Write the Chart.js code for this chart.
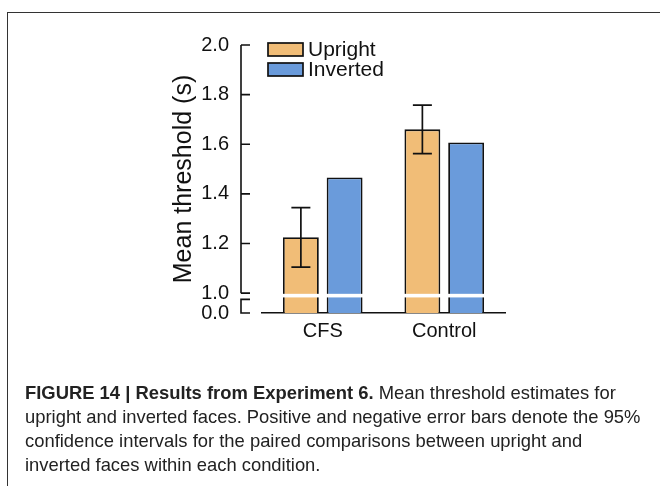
<!DOCTYPE html>
<html>
<head>
<meta charset="utf-8">
<script src="https://cdn.jsdelivr.net/npm/chart.js@4.4.0/dist/chart.umd.min.js"></script>
<style>
	html, body { margin: 0; padding: 0; background: #fff; }
	body { width: 660px; height: 486px; position: relative; overflow: hidden; font-family: 'Liberation Sans', Arial, sans-serif; }
	#chart-wrap { position: absolute; left: 0; top: 0; width: 660px; height: 360px; }
	#frame { position: absolute; left: 7px; top: 11.5px; width: 700px; height: 500px; border-top: 1.5px solid #333; border-left: 1.5px solid #333; }
	#caption { position: absolute; left: 25px; top: 381px; font-size: 18.4px; line-height: 24px; color: #222; white-space: nowrap; }
</style>
</head>
<body>
<div id="chart-wrap"><canvas id="summaryChart" width="660" height="360"></canvas></div>
<div id="frame"></div>
<div id="caption">
	<div><b>FIGURE 14 | Results from Experiment 6.</b> Mean threshold estimates for</div>
	<div>upright and inverted faces. Positive and negative error bars denote the 95%</div>
	<div>confidence intervals for the paired comparisons between upright and</div>
	<div>inverted faces within each condition.</div>
</div>
<script>
// chart data
const categories = ['CFS', 'Control'];
const seriesNames = ['Upright', 'Inverted'];
const uprightValues = [1.225, 1.66];
const invertedValues = [1.466, 1.607];
const uprightErrors = [0.12, 0.098];
const yTickValues = [1.0, 1.2, 1.4, 1.6, 1.8, 2.0];
const yMax = 2.0;
// broken axis: the bottom of the axis stands for 0.0
const yBottom = 0.92;
const yBottomLabel = '0.0';
const breakValue = 0.99;
const lowerAxisTop = 0.975;

const seriesColors = ['#F1BD77', '#6A9BDB'];
const inkColor = '#111';

// draws the broken y axis, the break stripe, error bars and the legend
const decorPlugin = {
	id: 'decor',
	afterDatasetsDraw: function(chart) {
		const ctx = chart.ctx;
		const y = chart.scales.y;
		const area = chart.chartArea;

		ctx.save();
		// white break stripe through the bars
		const by = y.getPixelForValue(breakValue);
		ctx.fillStyle = '#fff';
		ctx.fillRect(area.left, by - 1.8, area.right - area.left, 3.6);

		// error bars on the upright bars
		ctx.strokeStyle = inkColor;
		ctx.lineWidth = 1.7;
		chart.getDatasetMeta(0).data.forEach(function(bar, i) {
			const top = y.getPixelForValue(uprightValues[i] + uprightErrors[i]);
			const bottom = y.getPixelForValue(uprightValues[i] - uprightErrors[i]);
			ctx.beginPath();
			ctx.moveTo(bar.x, top);
			ctx.lineTo(bar.x, bottom);
			ctx.moveTo(bar.x - 9.5, top);
			ctx.lineTo(bar.x + 9.5, top);
			ctx.moveTo(bar.x - 9.5, bottom);
			ctx.lineTo(bar.x + 9.5, bottom);
			ctx.stroke();
		});

		// y axis line with inward ticks, broken below 1.0
		const sx = area.left - 21;
		const tick = 9;
		ctx.lineWidth = 1.6;
		ctx.beginPath();
		const yTop = y.getPixelForValue(yMax);
		const yOne = y.getPixelForValue(yTickValues[0]);
		ctx.moveTo(sx, yTop);
		ctx.lineTo(sx, yOne);
		yTickValues.forEach(function(v) {
			const ty = y.getPixelForValue(v);
			ctx.moveTo(sx, ty);
			ctx.lineTo(sx + tick, ty);
		});
		const lt = y.getPixelForValue(lowerAxisTop);
		ctx.moveTo(sx + tick, lt);
		ctx.lineTo(sx, lt);
		ctx.lineTo(sx, area.bottom);
		ctx.lineTo(sx + tick, area.bottom);
		ctx.stroke();

		// legend
		ctx.font = '21px "Liberation Sans", Arial, sans-serif';
		ctx.textBaseline = 'middle';
		ctx.textAlign = 'left';
		chart.data.datasets.forEach(function(ds, i) {
			const bx = 268;
			const bym = 49.5 + i * 20;
			ctx.fillStyle = ds.backgroundColor;
			ctx.fillRect(bx, bym - 6.5, 35, 13);
			ctx.lineWidth = 1.7;
			ctx.strokeStyle = inkColor;
			ctx.strokeRect(bx, bym - 6.5, 35, 13);
			ctx.fillStyle = inkColor;
			ctx.fillText(ds.label, bx + 40, bym + 1);
		});
		ctx.restore();
	}
};

document.addEventListener('DOMContentLoaded', function() {
	const ctx = document.getElementById('summaryChart').getContext('2d');
	const chart = new Chart(ctx, {
		type: 'bar',
		data: {
			labels: categories,
			datasets: [
				{
					label: seriesNames[0],
					data: uprightValues,
					backgroundColor: seriesColors[0],
					borderColor: inkColor,
					borderWidth: 1.8
				},
				{
					label: seriesNames[1],
					data: invertedValues,
					backgroundColor: seriesColors[1],
					borderColor: inkColor,
					borderWidth: 1.8
				}
			]
		},
		options: {
			responsive: false,
			animation: false,
			events: [],
			layout: { padding: { top: 45, right: 155, bottom: 0, left: 0 } },
			datasets: {
				bar: { categoryPercentage: 0.72, barPercentage: 0.82 }
			},
			scales: {
				x: {
					z: 1,
					grid: { display: false, drawTicks: false },
					border: { display: true, color: inkColor, width: 1.6 },
					ticks: { color: inkColor, padding: 6, font: { family: 'Liberation Sans', size: 20 } },
					afterFit: function(scale) { scale.height = 47; }
				},
				y: {
					min: yBottom,
					max: yMax,
					grid: { display: false, drawTicks: false },
					border: { display: false },
					afterBuildTicks: function(scale) {
						scale.ticks = [yBottom].concat(yTickValues).map(function(v) { return { value: v }; });
					},
					ticks: {
						autoSkip: false,
						color: inkColor,
						padding: 33,
						font: { family: 'Liberation Sans', size: 20 },
						callback: function(v) { return v === yBottom ? yBottomLabel : v.toFixed(1); }
					},
					title: {
						display: true,
						text: 'Mean threshold (s)',
						color: inkColor,
						font: { family: 'Liberation Sans', size: 25 },
						padding: { top: 169, bottom: 0 }
					},
					afterFit: function(scale) { scale.width = 262; }
				}
			},
			plugins: {
				legend: { display: false },
				tooltip: { enabled: false }
			}
		},
		plugins: [decorPlugin]
	});
});
</script>
</body>
</html>
